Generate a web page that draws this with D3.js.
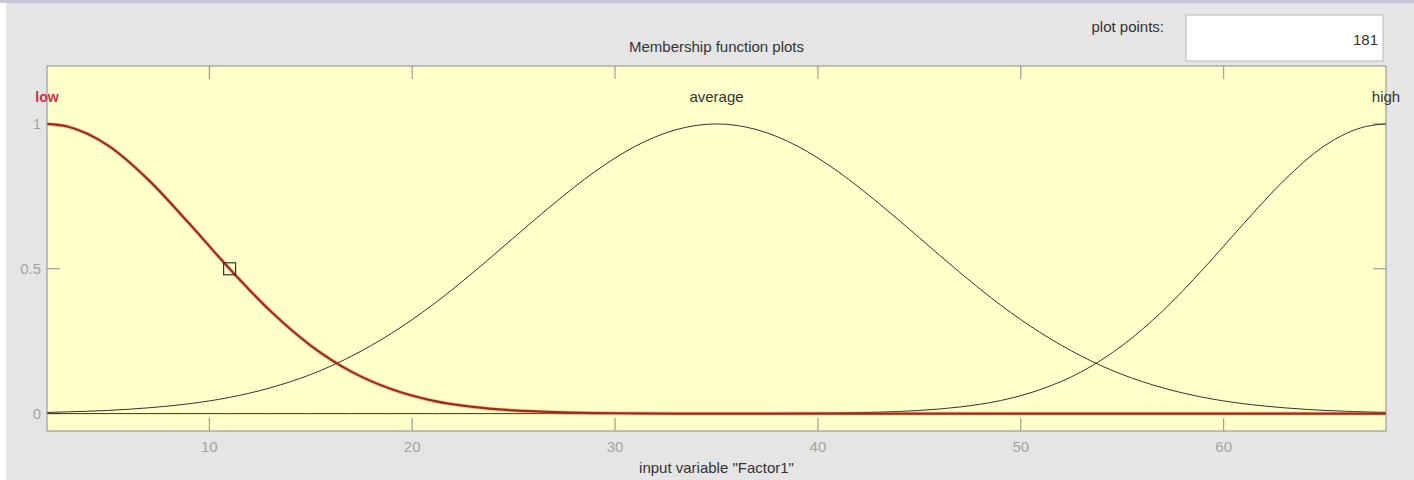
<!DOCTYPE html>
<html>
<head>
<meta charset="utf-8">
<script src="https://cdn.jsdelivr.net/npm/d3@7"></script>
<style>
  body { margin: 0; background: #fff; }
  svg { display: block; font-family: "Liberation Sans", Arial, sans-serif; }
</style>
</head>
<body>
<div id="chart"></div>
<script>
// sample positions along "Factor1"
var xs = [2, 3, 5, 7, 9, 11, 13, 15, 17, 19, 21, 23, 25, 27, 29, 31, 33, 35,
          37, 39, 41, 43, 45, 47, 49, 51, 53, 55, 57, 59, 61, 63, 65, 67, 68];

// membership values
var lowVals = [1, 0.991, 0.926, 0.807, 0.657, 0.500, 0.355, 0.235, 0.145, 0.084, 0.045, 0.023,
               0.011, 0.005, 0.002, 0.001, 0, 0, 0, 0, 0, 0, 0, 0, 0, 0, 0, 0, 0, 0, 0, 0, 0, 0, 0];
var averageVals = [0.004, 0.006, 0.011, 0.020, 0.034, 0.056, 0.089, 0.135, 0.198, 0.278, 0.375, 0.487,
                   0.607, 0.726, 0.835, 0.923, 0.980, 1, 0.980, 0.923, 0.835, 0.726, 0.607, 0.487,
                   0.375, 0.278, 0.198, 0.135, 0.089, 0.056, 0.034, 0.020, 0.011, 0.006, 0.004];
var highVals = [0, 0, 0, 0, 0, 0, 0, 0, 0, 0, 0, 0, 0, 0, 0, 0, 0, 0, 0, 0.001, 0.002, 0.005,
                0.011, 0.023, 0.045, 0.084, 0.145, 0.235, 0.355, 0.500, 0.657, 0.807, 0.926, 0.991, 1];

var mfNames = ["low", "average", "high"];
var mfCenters = [2, 35, 68];
var xTicks = [10, 20, 30, 40, 50, 60];
var yTicks = [0, 0.5, 1];
var marker = [11, 0.5];
var plotPoints = "181";

var W = 1414, H = 480;
var margin = { left: 47, right: 1386, top: 66, bottom: 431 };
var fs = "15px";

var svg = d3.select("#chart").append("svg")
    .attr("width", W)
    .attr("height", H);

// window panel
svg.append("rect").attr("x", 6).attr("y", 0).attr("width", W - 6).attr("height", H).attr("fill", "#e5e5e5");
svg.append("rect").attr("x", 0).attr("y", 0).attr("width", W).attr("height", 3).attr("fill", "#c9c9d6");

var x = d3.scaleLinear().domain([2, 68]).range([margin.left, margin.right]),
    y = d3.scaleLinear().domain([-0.06, 1.2]).range([margin.bottom, margin.top]);

svg.append("rect")
    .attr("x", margin.left).attr("y", margin.top)
    .attr("width", margin.right - margin.left).attr("height", margin.bottom - margin.top)
    .attr("fill", "#ffffca");

// ticks (inside, on all sides)
var tickLen = 13;
var g = svg.append("g").attr("stroke", "#8c8c8c").attr("stroke-width", 1);
xTicks.forEach(function (t) {
    g.append("line").attr("x1", x(t)).attr("x2", x(t)).attr("y1", margin.bottom).attr("y2", margin.bottom - tickLen);
    g.append("line").attr("x1", x(t)).attr("x2", x(t)).attr("y1", margin.top).attr("y2", margin.top + tickLen);
});
yTicks.forEach(function (t) {
    g.append("line").attr("x1", margin.left).attr("x2", margin.left + tickLen).attr("y1", y(t)).attr("y2", y(t));
    g.append("line").attr("x1", margin.right).attr("x2", margin.right - tickLen).attr("y1", y(t)).attr("y2", y(t));
});

svg.selectAll(".xtick")
    .data(xTicks)
    .enter().append("text")
    .attr("x", function (d) { return x(d); })
    .attr("y", 452)
    .attr("text-anchor", "middle")
    .attr("font-size", fs)
    .attr("fill", "#a3a3a3")
    .text(function (d) { return d; });

svg.selectAll(".ytick")
    .data(yTicks)
    .enter().append("text")
    .attr("x", margin.left - 6)
    .attr("y", function (d) { return y(d) + 5; })
    .attr("text-anchor", "end")
    .attr("font-size", fs)
    .attr("fill", "#a3a3a3")
    .text(function (d) { return d; });

// curves
var line = d3.line()
    .x(function (d, i) { return x(xs[i]); })
    .y(function (d) { return y(d); })
    .curve(d3.curveMonotoneX);

[averageVals, highVals].forEach(function (vals) {
    svg.append("path")
        .attr("d", line(vals))
        .attr("fill", "none")
        .attr("stroke", "#333")
        .attr("stroke-width", 1);
});

svg.append("path")
    .attr("d", line(lowVals))
    .attr("fill", "none")
    .attr("stroke", "#e07050")
    .attr("stroke-opacity", 0.35)
    .attr("stroke-width", 4);
svg.append("path")
    .attr("d", line(lowVals))
    .attr("fill", "none")
    .attr("stroke", "#9e2a1a")
    .attr("stroke-width", 2.2);

svg.append("rect")
    .attr("x", x(marker[0]) - 6).attr("y", y(marker[1]) - 6)
    .attr("width", 12).attr("height", 12)
    .attr("fill", "none")
    .attr("stroke", "#3a3030")
    .attr("stroke-width", 1.2);

// box
svg.append("rect")
    .attr("x", margin.left).attr("y", margin.top)
    .attr("width", margin.right - margin.left).attr("height", margin.bottom - margin.top)
    .attr("fill", "none")
    .attr("stroke", "#8c8c8c");

// MF labels
svg.selectAll(".mflabel")
    .data(mfNames)
    .enter().append("text")
    .attr("x", function (d, i) { return x(mfCenters[i]); })
    .attr("y", 102)
    .attr("text-anchor", "middle")
    .attr("font-size", function (d, i) { return i == 0 ? "14px" : fs; })
    .attr("fill", function (d, i) { return i == 0 ? "#d0304a" : "#333"; })
    .attr("font-weight", function (d, i) { return i == 0 ? "bold" : "normal"; })
    .text(function (d) { return d; });

svg.append("text")
    .attr("x", (margin.left + margin.right) / 2).attr("y", 52)
    .attr("text-anchor", "middle")
    .attr("font-size", fs)
    .attr("fill", "#333")
    .text("Membership function plots");

svg.append("text")
    .attr("x", (margin.left + margin.right) / 2).attr("y", 473)
    .attr("text-anchor", "middle")
    .attr("font-size", fs)
    .attr("fill", "#333")
    .text('input variable "Factor1"');

// plot points box
svg.append("text")
    .attr("x", 1164).attr("y", 32)
    .attr("text-anchor", "end")
    .attr("font-size", fs)
    .attr("fill", "#333")
    .text("plot points:");
svg.append("rect")
    .attr("x", 1186).attr("y", 15)
    .attr("width", 197).attr("height", 46)
    .attr("fill", "#fff")
    .attr("stroke", "#b8b8b8");
svg.append("text")
    .attr("x", 1378).attr("y", 45)
    .attr("text-anchor", "end")
    .attr("font-size", fs)
    .attr("fill", "#333")
    .text(plotPoints);
</script>
</body>
</html>
